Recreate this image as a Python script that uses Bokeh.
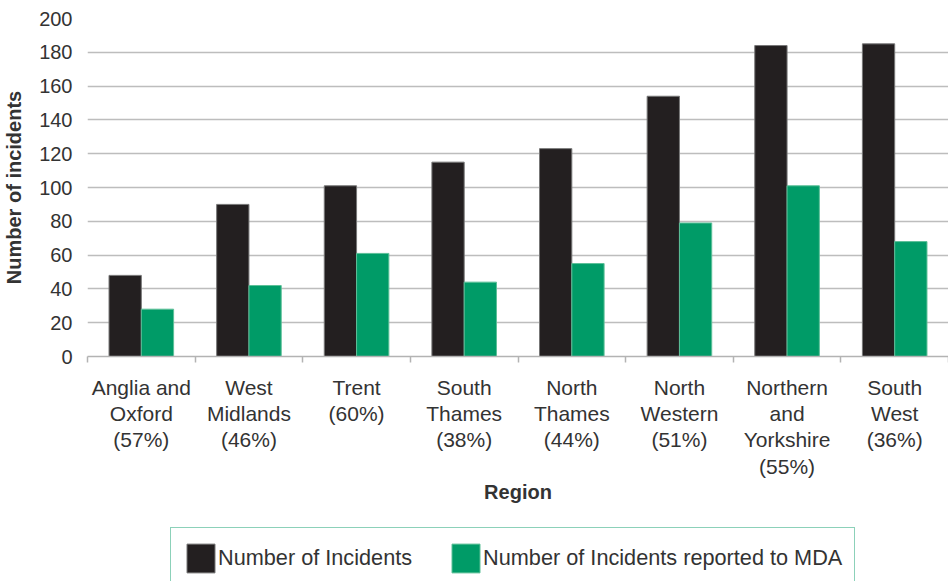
import numpy as np
from bokeh.plotting import figure
from bokeh.layouts import column
from bokeh.models import (Range1d, FixedTicker, Legend, LegendItem, ColumnDataSource)
from bokeh.embed import file_html
from bokeh.resources import INLINE

# ---- data ----
regions = ["Anglia and\nOxford", "West\nMidlands", "Trent", "South\nThames",
           "North\nThames", "North\nWestern", "Northern\nand\nYorkshire", "South\nWest"]
percent_reported = ["(57%)", "(46%)", "(60%)", "(38%)", "(44%)", "(51%)", "(55%)", "(36%)"]
incidents = [48, 90, 101, 115, 123, 154, 184, 185]
reported_to_mda = [28, 42, 61, 44, 55, 79, 101, 68]
y_ticks = [0, 20, 40, 60, 80, 100, 120, 140, 160, 180, 200]
series_labels = ["Number of Incidents", "Number of Incidents reported to MDA"]

BLACK = "#231f20"
GREEN = "#009b67"
FONT = "Liberation Sans"
TXT = "#333333"
BLACK_EDGE = "#777777"
GREEN_EDGE = "#5cbf98"

n = len(regions)
centers = np.arange(n) + 0.5
bar_w = 0.3

src = ColumnDataSource(dict(
    x_black=centers - bar_w / 2,
    x_green=centers + bar_w / 2,
    incidents=incidents,
    reported=reported_to_mda,
))

p = figure(width=948, height=527, output_backend="svg", toolbar_location=None,
           x_range=Range1d(0, n), y_range=Range1d(0, 200),
           min_border_left=87, min_border_right=0, min_border_top=18,
           min_border_bottom=171)
p.outline_line_color = None
p.background_fill_color = "white"
p.border_fill_color = "white"

r1 = p.vbar(x="x_black", top="incidents", width=bar_w, source=src,
            fill_color=BLACK, line_color=BLACK_EDGE, line_width=1)
r2 = p.vbar(x="x_green", top="reported", width=bar_w, source=src,
            fill_color=GREEN, line_color=GREEN_EDGE, line_width=1)

# x axis: labels at centers, ticks at category boundaries
xa = p.xaxis[0]
xa.ticker = FixedTicker(ticks=list(centers), minor_ticks=list(range(n + 1)))
xa.major_label_overrides = {float(c): f"{r}\n{pc}" for c, r, pc in zip(centers, regions, percent_reported)}
xa.major_tick_line_color = None
xa.major_tick_out = 0
xa.major_tick_in = 0
xa.minor_tick_line_color = "#b3b3b3"
xa.minor_tick_line_width = 1.5
xa.minor_tick_out = 6
xa.minor_tick_in = 0
xa.axis_line_color = "#b3b3b3"
xa.axis_line_width = 1.5
xa.major_label_text_font = FONT
xa.major_label_text_font_size = "21px"
xa.major_label_text_color = TXT
xa.major_label_text_line_height = 1.15
xa.major_label_standoff = 13
xa.axis_label = "Region"
xa.axis_label_text_font = FONT
xa.axis_label_text_font_style = "bold"
xa.axis_label_text_font_size = "20px"
xa.axis_label_text_color = TXT
xa.axis_label_standoff = 0

ya = p.yaxis[0]
ya.ticker = FixedTicker(ticks=y_ticks)
ya.axis_line_color = None
ya.major_tick_line_color = None
ya.minor_tick_line_color = None
ya.major_label_text_font = FONT
ya.major_label_text_font_size = "20px"
ya.major_label_text_color = TXT
ya.major_label_standoff = 9
ya.axis_label = "Number of incidents"
ya.axis_label_text_font = FONT
ya.axis_label_text_font_style = "bold"
ya.axis_label_text_font_size = "20px"
ya.axis_label_text_color = TXT
ya.axis_label_standoff = 11

p.xgrid.grid_line_color = None
p.ygrid.ticker = FixedTicker(ticks=y_ticks)
p.ygrid.grid_line_color = "#bdbdbd"
p.ygrid.grid_line_width = 1.5

# ---- legend strip (its bottom is cut by the window edge, as in the reference) ----
p2 = figure(width=948, height=54, output_backend="svg", toolbar_location=None,
            x_range=Range1d(0, 1), y_range=Range1d(0, 1),
            x_axis_location=None, y_axis_location=None,
            min_border_left=87, min_border_right=0, min_border_top=0, min_border_bottom=0)
p2.outline_line_color = None
p2.grid.visible = False
p2.border_fill_color = "white"
# legend proxies (placed above the visible range, so only their legend swatches show)
g1 = p2.vbar(x=[0.5], bottom=[5], top=[6], width=0.1, fill_color=BLACK, line_color=BLACK_EDGE, line_width=1)
g2 = p2.vbar(x=[0.5], bottom=[5], top=[6], width=0.1, fill_color=GREEN, line_color=GREEN_EDGE, line_width=1)

legend = Legend(items=[LegendItem(label=series_labels[0], renderers=[g1]),
                       LegendItem(label=series_labels[1], renderers=[g2])],
                orientation="horizontal", location=(83, -8),
                glyph_width=35, glyph_height=36, label_standoff=0, spacing=36,
                padding=12, margin=0,
                label_text_font=FONT, label_text_font_size="21.7px", label_text_color=TXT,
                border_line_color="#1aa373", border_line_width=1.2,
                background_fill_color="white", background_fill_alpha=1)
p2.add_layout(legend)

layout = column(p, p2, spacing=0)
open("out.html", "w").write(file_html(layout, INLINE))
